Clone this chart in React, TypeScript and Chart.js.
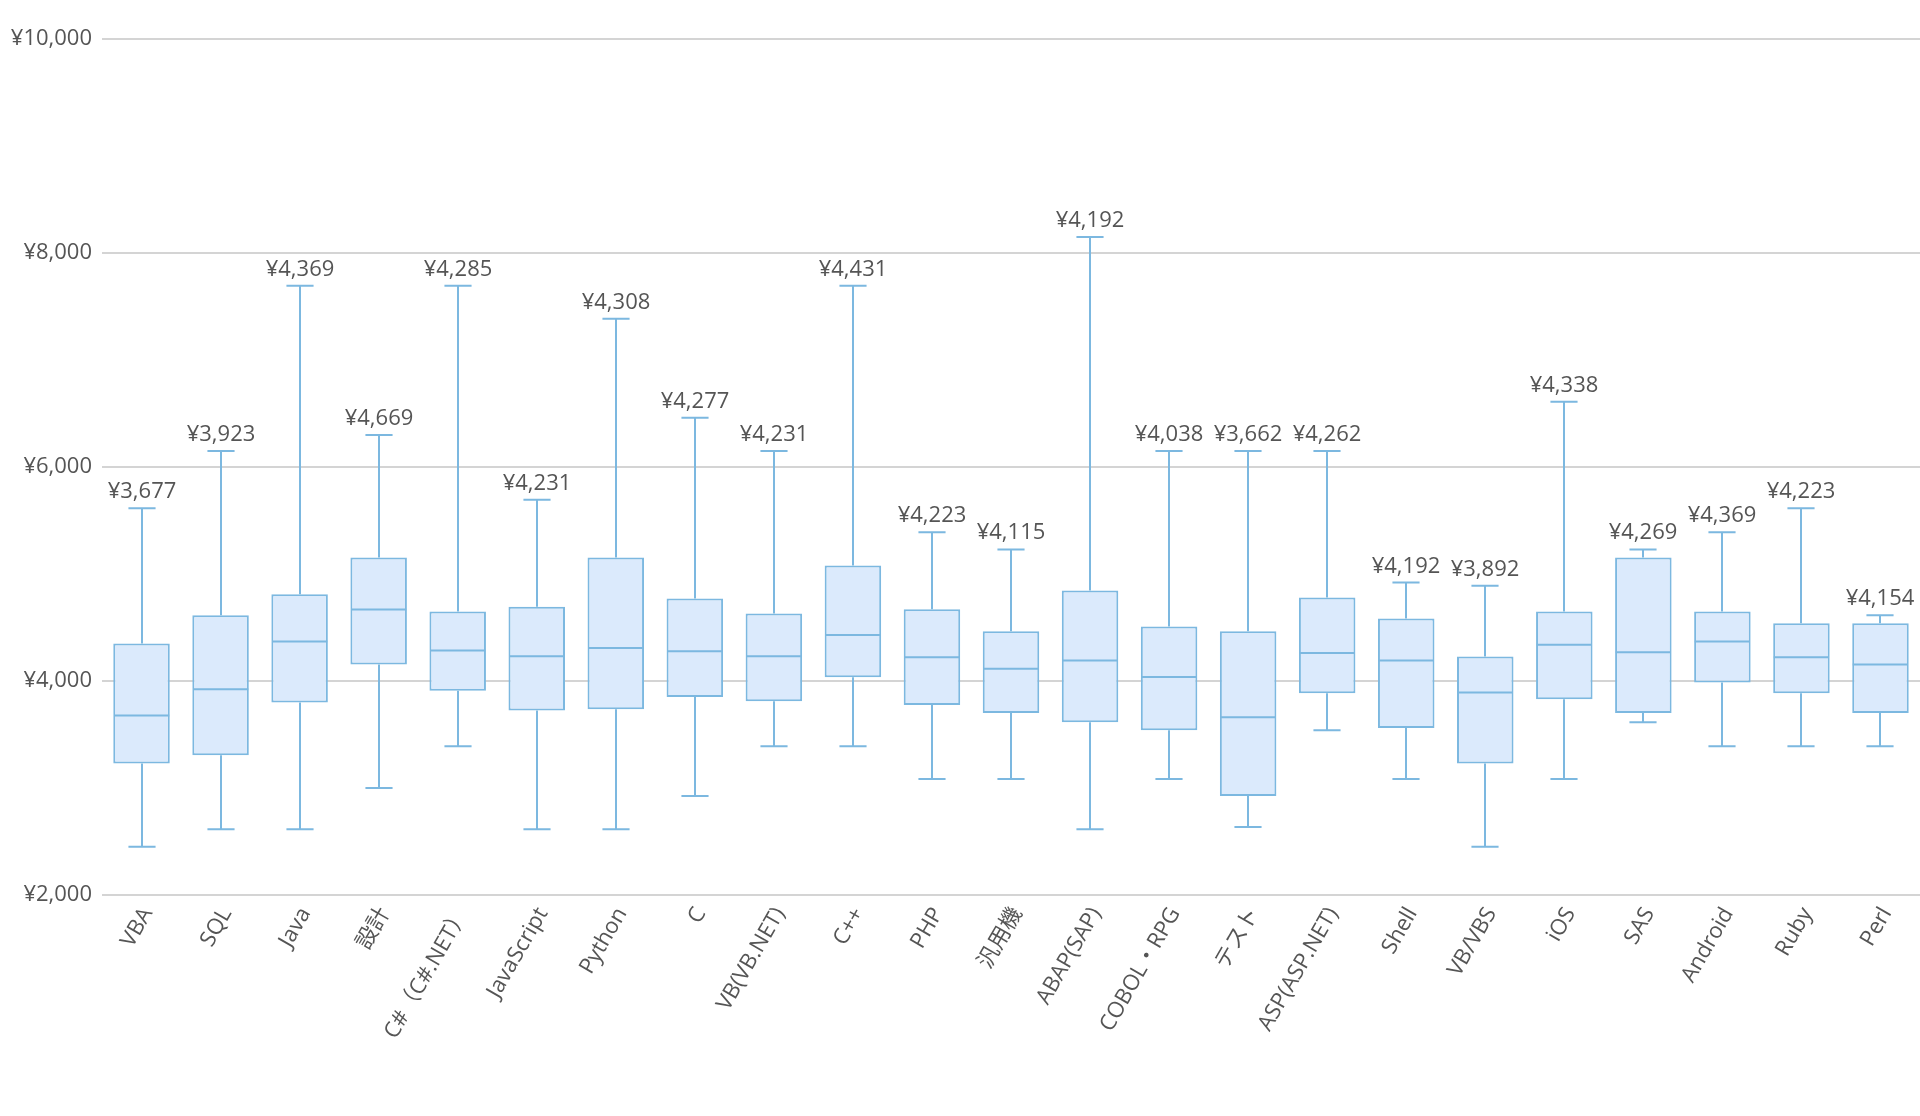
import { useEffect, useRef } from 'react';
import { Chart, registerables } from 'chart.js';

Chart.register(...registerables);

const categories = [
  'VBA', 'SQL', 'Java', '設計', 'C#（C#.NET）', 'JavaScript', 'Python', 'C',
  'VB(VB.NET)', 'C++', 'PHP', '汎用機', 'ABAP(SAP)', 'COBOL・RPG', 'テスト',
  'ASP(ASP.NET)', 'Shell', 'VB/VBS', 'iOS', 'SAS', 'Android', 'Ruby', 'Perl',
];
const minValues = [
  2450, 2615, 2615, 3000, 3390, 2615, 2615, 2925,
  3390, 3390, 3085, 3085, 2615, 3085, 2635,
  3540, 3085, 2450, 3085, 3615, 3390, 3390, 3390,
];
const q1Values = [
  3230, 3305, 3800, 4155, 3910, 3725, 3735, 3850,
  3810, 4035, 3775, 3700, 3615, 3540, 2925,
  3885, 3560, 3230, 3830, 3700, 3985, 3885, 3700,
];
const medianValues = [
  3677, 3923, 4369, 4669, 4285, 4231, 4308, 4277,
  4231, 4431, 4223, 4115, 4192, 4038, 3662,
  4262, 4192, 3892, 4338, 4269, 4369, 4223, 4154,
];
const q3Values = [
  4350, 4615, 4810, 5155, 4650, 4695, 5155, 4770,
  4630, 5080, 4670, 4465, 4845, 4510, 4465,
  4780, 4585, 4230, 4650, 5155, 4650, 4540, 4540,
];
const maxValues = [
  5615, 6150, 7695, 6300, 7695, 5695, 7385, 6460,
  6150, 7695, 5390, 5230, 8150, 6150, 6150,
  6150, 4920, 4890, 6610, 5230, 5390, 5615, 4615,
];
const yMin = 2000;
const yMax = 10000;
const yStep = 2000;

const FILL = 'rgb(219, 234, 252)';
const STROKE = 'rgb(124, 184, 224)';
const TEXT = 'rgb(85, 85, 85)';
const GRID = 'rgb(212, 212, 212)';
const FONT = "'Open Sans', 'Noto Sans CJK JP', sans-serif";

const yen = (v: number) => '¥' + Number(v).toLocaleString('en-US');

const boxPlugin = {
  id: 'boxWhisker',
  afterDatasetsDraw(chart: any) {
    const ctx = chart.ctx;
    const ys = chart.scales.y;
    const meta = chart.getDatasetMeta(0);
    ctx.save();
    ctx.strokeStyle = STROKE;
    ctx.lineWidth = 2;
    meta.data.forEach((bar: any, i: number) => {
      const x = Math.round(bar.x);
      const w = bar.width;
      const capHalf = w * 0.24;
      const pMax = ys.getPixelForValue(maxValues[i]);
      const pMin = ys.getPixelForValue(minValues[i]);
      const pQ1 = ys.getPixelForValue(q1Values[i]);
      const pQ3 = ys.getPixelForValue(q3Values[i]);
      const pMed = ys.getPixelForValue(medianValues[i]);
      ctx.beginPath();
      ctx.moveTo(x, pQ3);
      ctx.lineTo(x, pMax);
      ctx.moveTo(x - capHalf, pMax);
      ctx.lineTo(x + capHalf, pMax);
      ctx.moveTo(x, pQ1);
      ctx.lineTo(x, pMin);
      ctx.moveTo(x - capHalf, pMin);
      ctx.lineTo(x + capHalf, pMin);
      ctx.moveTo(x - w / 2 + 1, pMed);
      ctx.lineTo(x + w / 2 - 1, pMed);
      ctx.stroke();
      ctx.fillStyle = TEXT;
      ctx.font = `22px ${FONT}`;
      ctx.textAlign = 'center';
      ctx.textBaseline = 'alphabetic';
      ctx.fillText(yen(medianValues[i]), x, pMax - 10);
    });
    ctx.restore();
  },
};

export default function App() {
  const ref = useRef<HTMLCanvasElement | null>(null);
  useEffect(() => {
    document.body.style.margin = '0';
    const canvas = ref.current;
    if (!canvas) return;
    const chart = new Chart(canvas, {
      type: 'bar',
      data: {
        labels: categories,
        datasets: [
          {
            data: q1Values.map((q, i) => [q, q3Values[i]]) as any,
            backgroundColor: FILL,
            borderColor: STROKE,
            borderWidth: 2,
            borderSkipped: false,
            categoryPercentage: 1,
            barPercentage: 0.715,
          },
        ],
      },
      options: {
        responsive: false,
        animation: false,
        events: [],
        layout: { padding: { top: 39, right: 0, bottom: 0, left: 0 } },
        plugins: { legend: { display: false }, tooltip: { enabled: false } },
        scales: {
          x: {
            grid: { display: false },
            border: { display: false },
            ticks: {
              autoSkip: false,
              minRotation: 60,
              maxRotation: 60,
              padding: 0,
              labelOffset: 6,
              color: TEXT,
              font: { family: FONT, size: 22 },
            },
            afterFit: (s: any) => {
              s.height = 221;
            },
          },
          y: {
            min: yMin,
            max: yMax,
            grid: { color: GRID, lineWidth: 2, drawTicks: false },
            border: { display: false },
            ticks: {
              stepSize: yStep,
              padding: 10,
              color: TEXT,
              font: { family: FONT, size: 22 },
              callback: (v: any) => yen(v),
            },
            afterFit: (s: any) => {
              s.width = 102;
            },
          },
        },
      },
      plugins: [boxPlugin],
    });
    return () => chart.destroy();
  }, []);
  return (
    <div style={{ position: 'absolute', left: 0, top: 0, width: 1920, height: 1116 }}>
      <canvas ref={ref} width={1920} height={1116} style={{ width: 1920, height: 1116, display: 'block' }} />
    </div>
  );
}
